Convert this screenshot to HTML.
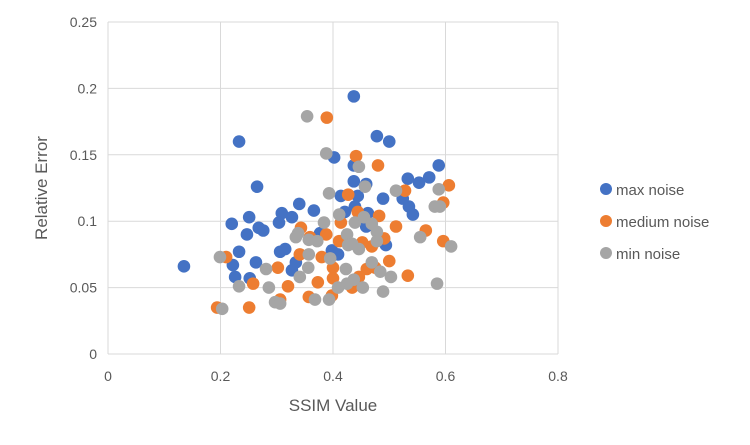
<!DOCTYPE html>
<html><head><meta charset="utf-8"><style>
body{margin:0;background:#fff;}
svg{display:block;font-family:"Liberation Sans",Arial,sans-serif;}
</style></head><body>
<svg id="chart" width="750" height="445" viewBox="0 0 750 445" xmlns="http://www.w3.org/2000/svg">
<g id="grid"></g>
<g id="ticks"></g>
<g id="points"></g>
<text x="333" y="411" text-anchor="middle" font-size="17" fill="#595959">SSIM Value</text>
<text transform="translate(47,188) rotate(-90)" text-anchor="middle" font-size="17" fill="#595959">Relative Error</text>
<g>
<g><circle cx="606" cy="189" r="6" fill="#4472c4"/><text x="616" y="195" font-size="15" fill="#595959">max noise</text></g>
<g><circle cx="606" cy="221" r="6" fill="#ed7d31"/><text x="616" y="227" font-size="15" fill="#595959">medium noise</text></g>
<g><circle cx="606" cy="253" r="6" fill="#a5a5a5"/><text x="616" y="259" font-size="15" fill="#595959">min noise</text></g>
</g>
</svg>
<script>
const xTicks=[0,0.2,0.4,0.6,0.8];
const xTickLabels=["0","0.2","0.4","0.6","0.8"];
const yTicks=[0,0.05,0.1,0.15,0.2,0.25];
const yTickLabels=["0","0.05","0.1","0.15","0.2","0.25"];
const maxX=[0.233,0.265,0.220,0.251,0.247,0.276,0.268,0.233,0.222,0.226,0.252,0.263,0.135,0.340,0.309,0.327,0.304,0.366,0.306,0.315,0.334,0.327,0.402,0.414,0.421,0.377,0.398,0.409,0.437,0.478,0.500,0.588,0.437,0.571,0.533,0.553,0.437,0.459,0.444,0.489,0.524,0.535,0.542,0.439,0.462,0.459,0.494];
const maxY=[0.160,0.126,0.098,0.103,0.090,0.093,0.095,0.077,0.067,0.058,0.057,0.069,0.066,0.113,0.106,0.103,0.099,0.108,0.077,0.079,0.069,0.063,0.148,0.119,0.107,0.091,0.078,0.075,0.194,0.164,0.160,0.142,0.142,0.133,0.132,0.129,0.130,0.128,0.119,0.117,0.117,0.111,0.105,0.111,0.106,0.096,0.082];
const medX=[0.389,0.210,0.258,0.251,0.194,0.302,0.320,0.306,0.343,0.341,0.373,0.357,0.388,0.411,0.414,0.427,0.380,0.400,0.400,0.398,0.359,0.441,0.480,0.606,0.528,0.596,0.482,0.512,0.565,0.444,0.596,0.491,0.469,0.452,0.500,0.533,0.460,0.446,0.434,0.475];
const medY=[0.178,0.073,0.053,0.035,0.035,0.065,0.051,0.041,0.095,0.075,0.054,0.043,0.090,0.085,0.099,0.120,0.073,0.065,0.057,0.044,0.088,0.149,0.142,0.127,0.123,0.114,0.104,0.096,0.093,0.107,0.085,0.087,0.081,0.084,0.070,0.059,0.064,0.058,0.050,0.065];
const minX=[0.354,0.388,0.393,0.411,0.384,0.338,0.334,0.357,0.372,0.357,0.395,0.425,0.427,0.199,0.281,0.356,0.341,0.423,0.425,0.409,0.233,0.286,0.297,0.306,0.368,0.393,0.203,0.446,0.457,0.512,0.588,0.581,0.590,0.439,0.455,0.469,0.478,0.478,0.555,0.610,0.434,0.446,0.469,0.484,0.503,0.585,0.437,0.453,0.489];
const minY=[0.179,0.151,0.121,0.105,0.099,0.091,0.088,0.086,0.085,0.075,0.072,0.090,0.082,0.073,0.064,0.065,0.058,0.064,0.053,0.050,0.051,0.050,0.039,0.038,0.041,0.041,0.034,0.141,0.126,0.123,0.124,0.111,0.111,0.099,0.103,0.098,0.092,0.085,0.088,0.081,0.083,0.079,0.069,0.062,0.058,0.053,0.056,0.050,0.047];
const NS="http://www.w3.org/2000/svg";
const X0=108,X1=558,Y0=354,Y1=22;
function sx(v){return X0+(v-0)/(0.8-0)*(X1-X0);}
function sy(v){return Y0-(v-0)/(0.25-0)*(Y0-Y1);}
const grid=document.getElementById('grid'),ticks=document.getElementById('ticks'),pts=document.getElementById('points');
yTicks.forEach((t,i)=>{
  const l=document.createElementNS(NS,'line');
  
  
  l.setAttribute('x1',X0);l.setAttribute('x2',X1);l.setAttribute('y1',sy(t));l.setAttribute('y2',sy(t));
  l.setAttribute('stroke','#d9d9d9');l.setAttribute('stroke-width','1');
  grid.appendChild(l);
  const tx=document.createElementNS(NS,'text');
  
  
  tx.setAttribute('x',97);tx.setAttribute('y',sy(t)+5);tx.setAttribute('text-anchor','end');
  tx.setAttribute('font-size','14');tx.setAttribute('fill','#595959');
  tx.textContent=yTickLabels[i];ticks.appendChild(tx);
});
xTicks.forEach((t,i)=>{
  const l=document.createElementNS(NS,'line');
  
  
  l.setAttribute('x1',sx(t));l.setAttribute('x2',sx(t));l.setAttribute('y1',Y1);l.setAttribute('y2',Y0);
  l.setAttribute('stroke','#d9d9d9');l.setAttribute('stroke-width','1');
  grid.appendChild(l);
  const tx=document.createElementNS(NS,'text');
  
  
  tx.setAttribute('x',sx(t));tx.setAttribute('y',381);tx.setAttribute('text-anchor','middle');
  tx.setAttribute('font-size','14');tx.setAttribute('fill','#595959');
  tx.textContent=xTickLabels[i];ticks.appendChild(tx);
});
function series(xs,ys,color,name){
  xs.forEach((x,i)=>{
    const c=document.createElementNS(NS,'circle');
    
    
    c.setAttribute('cx',sx(x));c.setAttribute('cy',sy(ys[i]));c.setAttribute('r','6.3');
    c.setAttribute('fill',color);
    pts.appendChild(c);
  });
}
series(maxX,maxY,'#4472c4','max-noise-point');
series(medX,medY,'#ed7d31','medium-noise-point');
series(minX,minY,'#a5a5a5','min-noise-point');
</script>
</body></html>
